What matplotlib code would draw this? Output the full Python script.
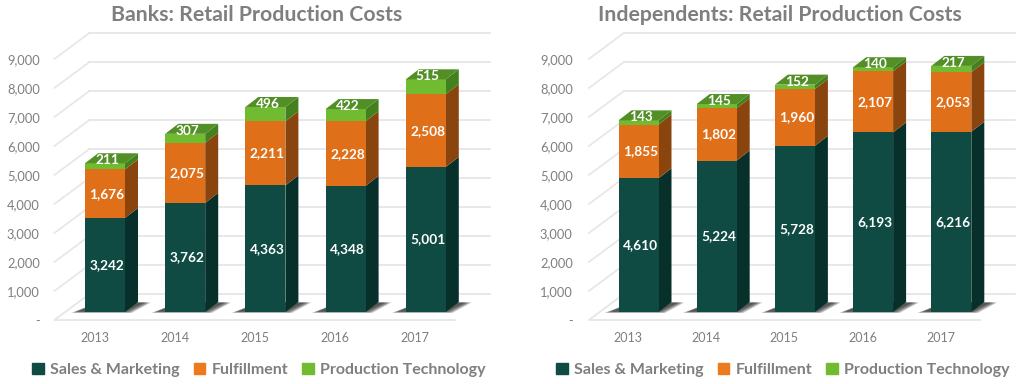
import numpy as np
import matplotlib
matplotlib.use("Agg")
import matplotlib.pyplot as plt
from matplotlib.patches import Patch, Polygon

plt.rcParams['font.family'] = ['Lato', 'DejaVu Sans']

years = ["2013", "2014", "2015", "2016", "2017"]
series_names = ["Sales & Marketing", "Fulfillment", "Production Technology"]
ticks = [0, 1000, 2000, 3000, 4000, 5000, 6000, 7000, 8000, 9000]
tick_labels = ["-", "1,000", "2,000", "3,000", "4,000", "5,000", "6,000", "7,000", "8,000", "9,000"]

banks_sales = [3242, 3762, 4363, 4348, 5001]
banks_fulfil = [1676, 2075, 2211, 2228, 2508]
banks_tech = [211, 307, 496, 422, 515]

indep_sales = [4610, 5224, 5728, 6193, 6216]
indep_fulfil = [1855, 1802, 1960, 2107, 2053]
indep_tech = [143, 145, 152, 140, 217]

front = ["#0f4b43", "#e06f1a", "#70bb2f"]
side = ["#07302b", "#8a450f", "#45801f"]
top = "#528f27"
grid_c = "#e6e6e6"
text_c = "#7f7f7f"

W, H = 1024, 384
PX = 0.029   # px per unit


def chart(left, right, x0, step, title, title_x, leg_x, stacks):
    # axes box in pixels, y limits shared by both charts
    ax = fig.add_axes([left / W, 1 - 328 / H, (right - left) / W, (328 - 20) / H])
    ax.set_xlim((left - x0) / step, (right - x0) / step)
    ax.set_ylim(-8 / PX, 300 / PX)
    for s in ax.spines.values():
        s.set_visible(False)
    ax.patch.set_visible(False)

    dx_wall = 35 / step
    dy_wall = 26 / PX
    xl = -0.5
    xr = 4.5
    # back wall lines and the floor
    for t in ticks[1:]:
        ax.plot([xl, xl + dx_wall], [t, t + dy_wall], color=grid_c, lw=1.2, zorder=1, clip_on=False)
    for t in ticks:
        ax.plot([xl + dx_wall, xr + dx_wall], [t + dy_wall, t + dy_wall], color=grid_c, lw=1.3,
                zorder=1, clip_on=False)
    ax.plot([xl + dx_wall, xl, xr], [dy_wall, 0, 0], color=grid_c, lw=1.3, zorder=1, clip_on=False)

    ax.set_xticks(range(5), years)
    ax.set_yticks(ticks, tick_labels)
    ax.tick_params(axis="x", length=0, pad=3, labelsize=9, labelcolor=text_c)
    ax.tick_params(axis="y", length=0, pad=3, labelsize=9.3, labelcolor=text_c)

    shift = 10.5 / step
    hw = 20 / step
    dep_x = 13 / step
    dep_y = 10 / PX
    base = 8 / PX
    for i in range(5):
        cx = i + shift
        # soft shadow on the floor
        for k in range(7, -1, -1):
            g = k / step
            ax.add_patch(Polygon([[cx - hw - 7 / step - g, base - (k * 0.2 - 0.5) / PX],
                                  [cx + hw + g, base - (k * 0.2 - 0.5) / PX],
                                  [cx + hw + dep_x + 6 / step + g, base + dep_y * 0.95],
                                  [cx - hw + dep_x, base + dep_y * 0.95]],
                                 closed=True, fc="#222222", ec="none", alpha=0.16, zorder=2))
        bottom = base
        for j, vals in enumerate(stacks):
            v = vals[i]
            ax.bar(cx, v, width=2 * hw, bottom=bottom, color=front[j], zorder=4)
            ax.add_patch(Polygon([[cx + hw, bottom], [cx + hw + dep_x, bottom + dep_y],
                                  [cx + hw + dep_x, bottom + v + dep_y], [cx + hw, bottom + v]],
                                 closed=True, fc=side[j], ec="none", zorder=3))
            if j < 2:
                ypos = bottom + v / 2
            else:
                # the top series label sits on the lid of the bar
                ypos = bottom + v + 3 / PX
            ax.text(cx + 2 / step, ypos, f"{v:,}", color="white", fontweight="bold", fontsize=9.8,
                    ha="center", va="center", zorder=6, clip_on=False)
            bottom += v
        ax.add_patch(Polygon([[cx - hw, bottom], [cx + hw, bottom],
                              [cx + hw + dep_x, bottom + dep_y], [cx - hw + dep_x, bottom + dep_y]],
                             closed=True, fc=top, ec="none", zorder=5))

    fig.text(title_x / W, 1 - 15 / H, title, color=text_c, fontsize=15.3, fontweight="bold",
             ha="center", va="center")
    handles = [Patch(color=front[0]), Patch(color="#ee7a1e"), Patch(color=front[2])]
    fig.legend(handles, series_names, loc="center", bbox_to_anchor=(leg_x / W, 1 - 370 / H),
               ncol=3, frameon=False, labelcolor=text_c, handlelength=0.7,
               handleheight=0.7, handletextpad=0.4, columnspacing=0.9,
               prop={"weight": "bold", "size": 11.5})
    return ax


fig = plt.figure(figsize=(W / 100, H / 100), dpi=100, facecolor="white")
chart(44, 500, 94.5, 80.2, "Banks: Retail Production Costs", 257, 259,
      [banks_sales, banks_fulfil, banks_tech])
chart(577, 1020, 628, 78.2, "Independents: Retail Production Costs", 780, 783,
      [indep_sales, indep_fulfil, indep_tech])
fig.savefig("out.png", dpi=100)
